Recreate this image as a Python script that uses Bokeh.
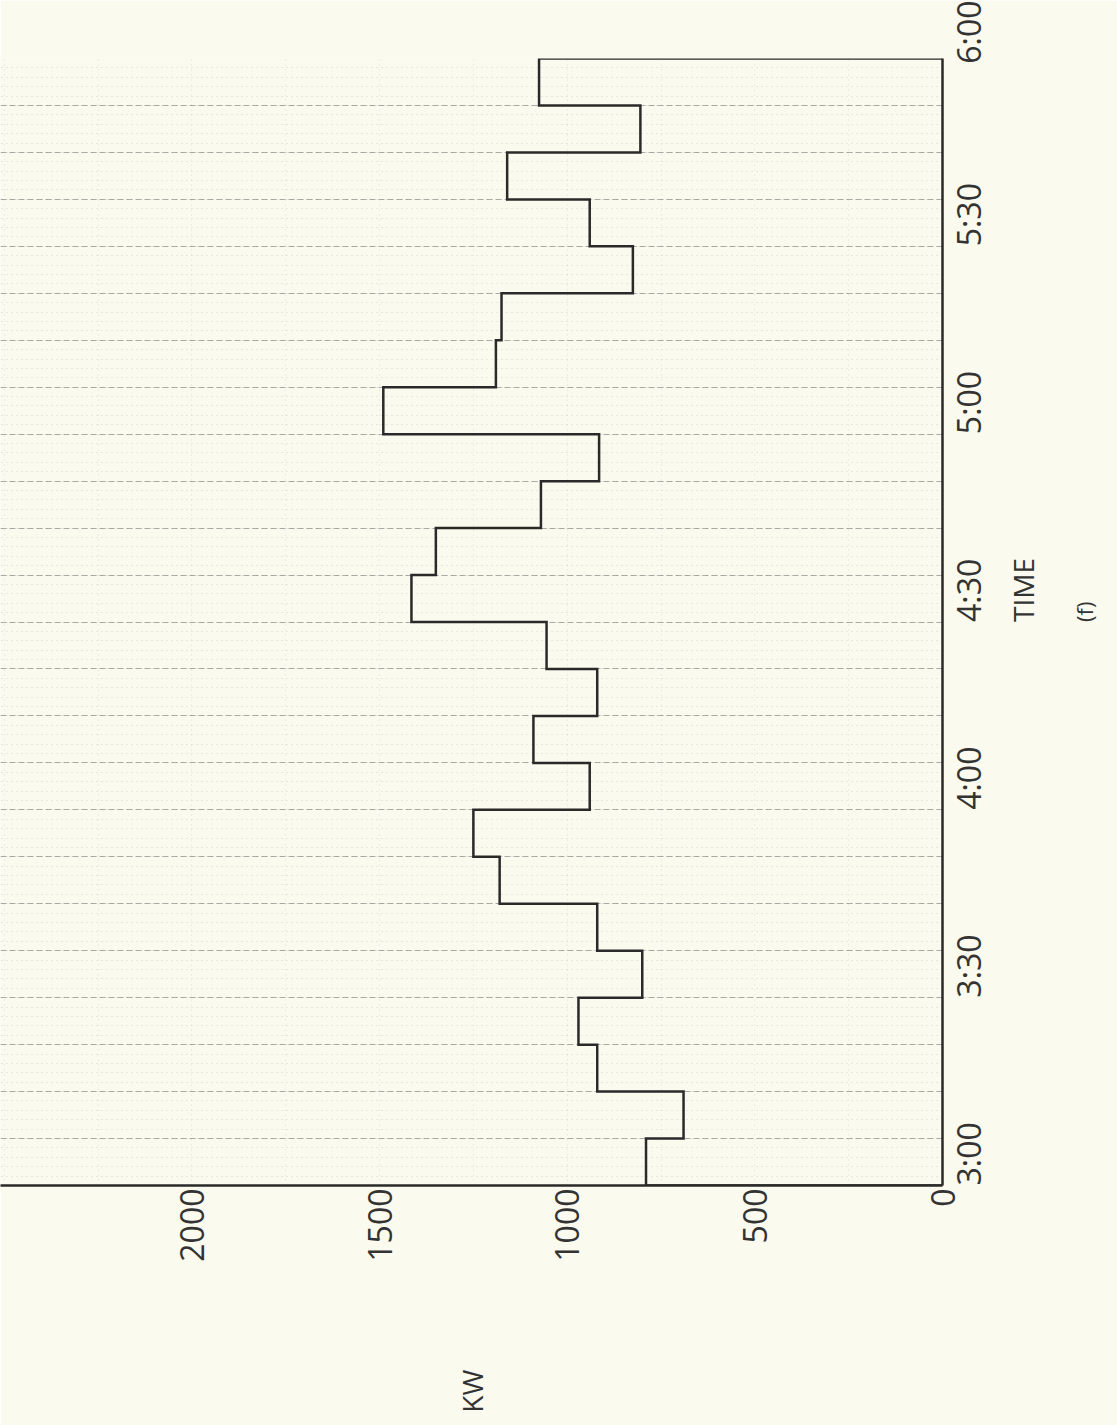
import math
from bokeh.plotting import figure
from bokeh.models import Range1d, LinearAxis, FixedTicker
from bokeh.embed import file_html
from bokeh.resources import INLINE

# ---- data ----
# bin edges, minutes after 3:00 (7.5-minute demand intervals, 3:00 to 6:00)
bin_edges_min = [0, 7.5, 15, 22.5, 30, 37.5, 45, 52.5, 60, 67.5, 75, 82.5,
                 90, 97.5, 105, 112.5, 120, 127.5, 135, 142.5, 150, 157.5,
                 165, 172.5, 180]
# demand in each interval, kW
demand_kw = [790, 690, 920, 970, 800, 920, 1180, 1250, 940, 1090, 920, 1055,
             1415, 1350, 1070, 915, 1490, 1190, 1175, 825, 940, 1160, 805, 1075]

time_ticks = [0, 30, 60, 90, 120, 150, 180]
time_labels = ["3:00", "3:30", "4:00", "4:30", "5:00", "5:30", "6:00"]
kw_ticks = [0, 500, 1000, 1500, 2000]
kw_labels = ["0", "500", "1000", "1500", "2000"]

BG = "#fafaee"
INK = "#2a2a2a"
TXT = "#333333"
FONT = "Open Sans"
UP = math.pi / 2   # text reading bottom-to-top

p = figure(width=1117, height=1425,
           x_range=Range1d(2510, 0), y_range=Range1d(0, 180),
           output_backend="svg", toolbar_location=None,
           x_axis_location=None, y_axis_location=None,
           min_border_left=0, min_border_right=175,
           min_border_top=58, min_border_bottom=240,
           background_fill_color=BG, border_fill_color=BG,
           outline_line_color=None)

# graph-paper lines
p.ygrid.ticker = FixedTicker(ticks=bin_edges_min,
                             minor_ticks=[i * 1.5 for i in range(121)])
p.ygrid.grid_line_color = "#7a7a7a"
p.ygrid.grid_line_alpha = 0.6
p.ygrid.grid_line_dash = "6 3"
p.ygrid.grid_line_width = 1
p.ygrid.minor_grid_line_color = "#9a9a9a"
p.ygrid.minor_grid_line_alpha = 0.4
p.ygrid.minor_grid_line_dash = "1 4"
p.xgrid.ticker = FixedTicker(ticks=[250 * i for i in range(11)])
p.xgrid.grid_line_color = "#aaaaaa"
p.xgrid.grid_line_alpha = 0.3
p.xgrid.grid_line_dash = "1 4"

# time axis (vertical, on the right)
ax_t = LinearAxis(ticker=FixedTicker(ticks=time_ticks),
                  major_label_overrides=dict(zip(time_ticks, time_labels)),
                  major_label_orientation=UP,
                  axis_label="TIME", axis_label_orientation=UP)
# kW axis (horizontal, below)
ax_k = LinearAxis(ticker=FixedTicker(ticks=kw_ticks),
                  major_label_overrides=dict(zip(kw_ticks, kw_labels)),
                  major_label_orientation=UP,
                  axis_label="KW", axis_label_orientation=UP)
for ax in (ax_t, ax_k):
    ax.axis_line_color = INK
    ax.axis_line_width = 2.5
    ax.major_tick_line_color = None
    ax.minor_tick_line_color = None
    ax.major_tick_out = 0
    ax.major_tick_in = 0
    ax.minor_tick_out = 0
    ax.minor_tick_in = 0
    ax.major_label_text_font = FONT
    ax.major_label_text_font_size = "32px"
    ax.major_label_text_color = TXT
    ax.axis_label_text_font = FONT
    ax.axis_label_text_font_size = "28px"
    ax.axis_label_text_font_style = "normal"
    ax.axis_label_text_color = TXT
ax_t.major_label_standoff = 26
ax_t.axis_label_standoff = 8
ax_k.major_label_standoff = 3
ax_k.axis_label_standoff = 105
p.add_layout(ax_t, "right")
p.add_layout(ax_k, "below")

# panel caption "(f)" as an outer right axis title
ax_f = LinearAxis(ticker=FixedTicker(ticks=[]), axis_line_color=None,
                  major_tick_line_color=None, minor_tick_line_color=None,
                  major_tick_out=0, major_tick_in=0,
                  minor_tick_out=0, minor_tick_in=0,
                  major_label_standoff=0,
                  major_label_text_font_size="0px",
                  axis_label="(f)", axis_label_orientation=UP,
                  axis_label_text_font=FONT, axis_label_text_font_size="22px",
                  axis_label_text_font_style="normal",
                  axis_label_text_color=TXT, axis_label_standoff=20)
p.add_layout(ax_f, "right")

# step outline of demand
xs = [0]
ys = [bin_edges_min[0]]
for i, kw in enumerate(demand_kw):
    xs += [kw, kw]
    ys += [bin_edges_min[i], bin_edges_min[i + 1]]
xs.append(0)
ys.append(bin_edges_min[-1])
p.line(xs, ys, line_color=INK, line_width=2.5, line_join="miter")

open("out.html", "w").write(file_html(p, INLINE))
